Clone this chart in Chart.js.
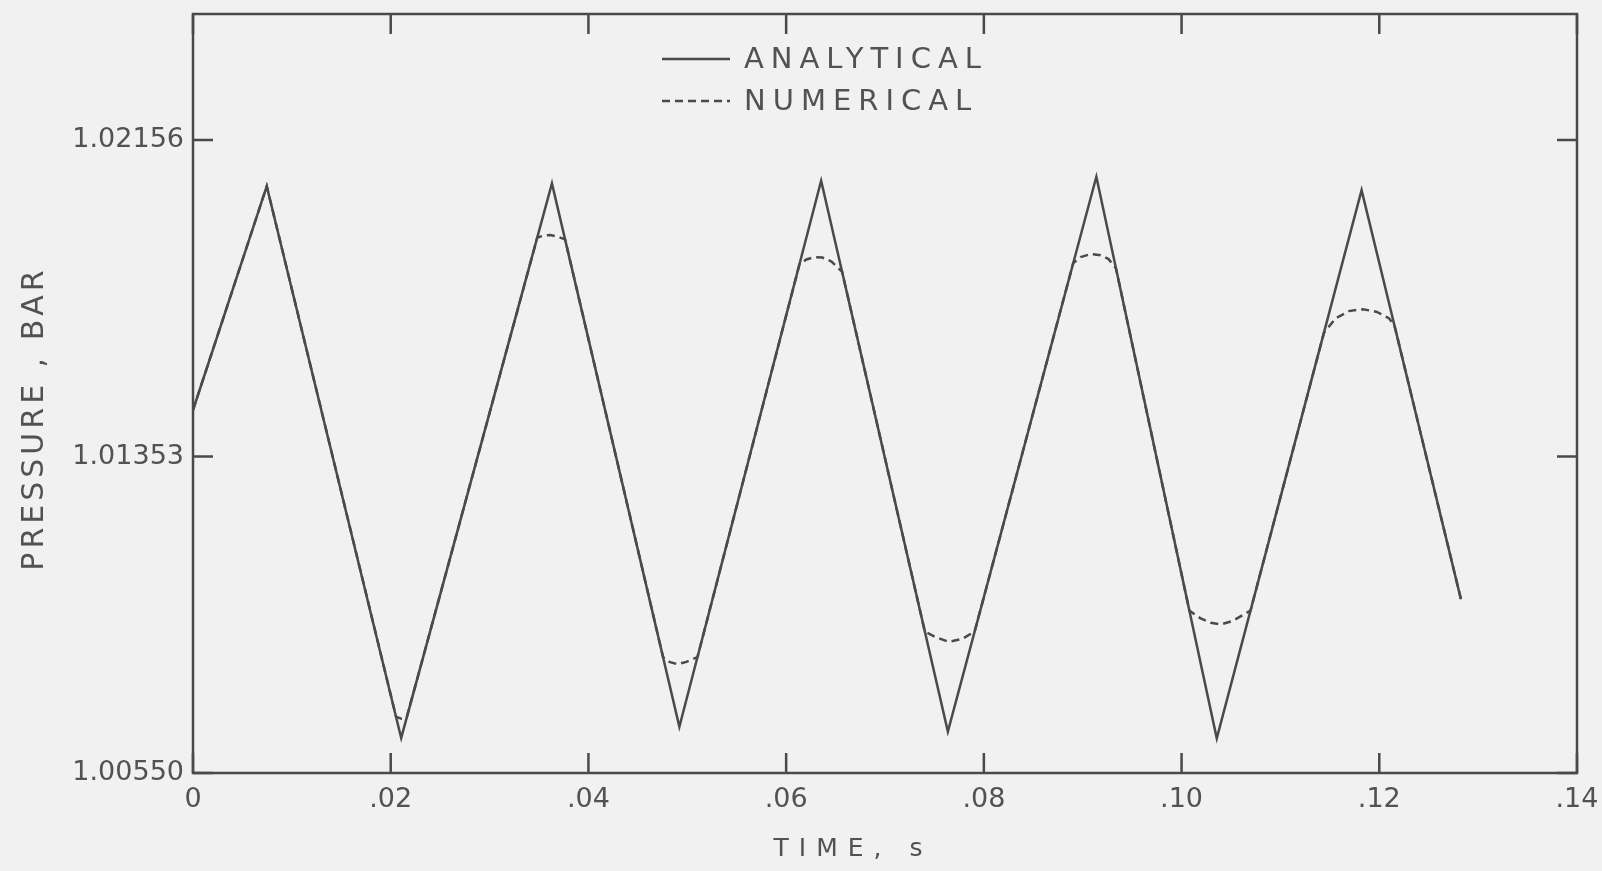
<!DOCTYPE html>
<html>
<head>
<meta charset="utf-8">
<script src="https://cdn.jsdelivr.net/npm/chart.js@4/dist/chart.umd.min.js"></script>
<style>
  html, body { margin: 0; padding: 0; background: #f1f1f1; overflow: hidden; }
  #wrap { width: 1602px; height: 871px; position: relative; }
</style>
</head>
<body>
<div id="wrap"><canvas id="chart"></canvas></div>
<script>
// analytical solution: corners of the sawtooth
const timeAnalytical = [0, 0.00746, 0.02106, 0.03631, 0.04920, 0.06354, 0.07636, 0.09138, 0.10356, 0.11821, 0.12826];
const pressureAnalytical = [1.01471, 1.02039, 1.00639, 1.02046, 1.00667, 1.02053, 1.00655, 1.02063, 1.00638, 1.02029, 1.00991];

// numerical solution: follows the analytical line but rounds off the peaks
const timeNumerical = [
  0, 0.00746,
  0.02055, 0.02110, 0.02163,
  0.03483, 0.03553, 0.03614, 0.03685, 0.03764,
  0.04755, 0.04819, 0.04900, 0.04991, 0.05103,
  0.06135, 0.06205, 0.06286, 0.06367, 0.06459, 0.06566,
  0.07403, 0.07511, 0.07642, 0.07780, 0.07907,
  0.08904, 0.08979, 0.09080, 0.09181, 0.09262, 0.09336,
  0.10079, 0.10194, 0.10295, 0.10396, 0.10518, 0.10697,
  0.11440, 0.11560, 0.11692, 0.11834, 0.11976, 0.12097, 0.12152,
  0.12826
];
const pressureNumerical = [
  1.01471, 1.02039,
  1.00692, 1.00688, 1.00692,
  1.01909, 1.01914, 1.01915, 1.01911, 1.01904,
  1.00844, 1.00832, 1.00826, 1.00832, 1.00844,
  1.01841, 1.01853, 1.01859, 1.01858, 1.01848, 1.01822,
  1.00909, 1.00895, 1.00883, 1.00890, 1.00909,
  1.01844, 1.01859, 1.01867, 1.01864, 1.01854, 1.01831,
  1.00962, 1.00942, 1.00931, 1.00927, 1.00936, 1.00962,
  1.01667, 1.01704, 1.01722, 1.01727, 1.01720, 1.01704, 1.01687,
  1.00991
];

const xTickValues = [0, 0.02, 0.04, 0.06, 0.08, 0.10, 0.12, 0.14];
const xTickLabels = ["0", ".02", ".04", ".06", ".08", ".10", ".12", ".14"];
const yTickValues = [1.00550, 1.01353, 1.02156];
const yTickLabels = ["1.00550", "1.01353", "1.02156"];

const ink = "#4a4a4a";
const textInk = "#525252";
const font = "'DejaVu Sans', sans-serif";

function points(xs, ys) {
  return xs.map((x, i) => ({ x: x, y: ys[i] }));
}

// hand lettering: wide letter spacing and titles a bit off centre
const titleStyle = {
  x: { spacing: "10px", dx: -32, dy: 0 },
  y: { spacing: "4px", dx: 0, dy: 25 }
};
const spacedTitles = {
  id: "spacedTitles",
  beforeDraw(chart) {
    for (const id of ["x", "y"]) {
      const scale = chart.scales[id];
      if (scale._spaced) continue;
      const orig = scale.drawTitle;
      const st = titleStyle[id];
      scale.drawTitle = function () {
        const ctx = this.ctx;
        ctx.save();
        ctx.letterSpacing = st.spacing;
        ctx.translate(st.dx, st.dy);
        orig.call(this);
        ctx.restore();
      };
      scale._spaced = true;
    }
  }
};

// closed frame with tick marks pointing inward on all four sides
const frameTicks = {
  id: "frameTicks",
  afterDraw(chart) {
    const { ctx, chartArea: a } = chart;
    const xs = chart.scales.x, ys = chart.scales.y;
    const len = 20;
    ctx.save();
    ctx.strokeStyle = ink;
    ctx.lineWidth = 2.5;
    ctx.strokeRect(a.left, a.top, a.right - a.left, a.bottom - a.top);
    ctx.beginPath();
    xTickValues.forEach(v => {
      const px = xs.getPixelForValue(v);
      ctx.moveTo(px, a.bottom); ctx.lineTo(px, a.bottom - len);
      ctx.moveTo(px, a.top); ctx.lineTo(px, a.top + len);
    });
    yTickValues.forEach(v => {
      const py = ys.getPixelForValue(v);
      ctx.moveTo(a.left, py); ctx.lineTo(a.left + len, py);
      ctx.moveTo(a.right, py); ctx.lineTo(a.right - len, py);
    });
    ctx.stroke();
    ctx.restore();
  }
};

// legend drawn inside the frame, near the top
const innerLegend = {
  id: "innerLegend",
  afterDraw(chart) {
    const ctx = chart.ctx;
    const x0 = 662, y0 = 59, rowGap = 42, sample = 68;
    ctx.save();
    chart.data.datasets.forEach((ds, i) => {
      const y = y0 + i * rowGap;
      ctx.strokeStyle = ds.borderColor;
      ctx.lineWidth = ds.borderWidth;
      ctx.setLineDash(ds.borderDash || []);
      ctx.beginPath();
      ctx.moveTo(x0, y);
      ctx.lineTo(x0 + sample, y);
      ctx.stroke();
      ctx.setLineDash([]);
      ctx.font = "29px " + font;
      ctx.letterSpacing = "7px";
      ctx.fillStyle = textInk;
      ctx.textBaseline = "middle";
      ctx.textAlign = "left";
      ctx.fillText(ds.label, x0 + 82, y + 1);
    });
    ctx.restore();
  }
};

new Chart(document.getElementById("chart"), {
  type: "line",
  data: {
    datasets: [
      {
        label: "ANALYTICAL",
        data: points(timeAnalytical, pressureAnalytical),
        borderColor: ink,
        borderWidth: 2.5,
        pointRadius: 0,
        tension: 0
      },
      {
        label: "NUMERICAL",
        data: points(timeNumerical, pressureNumerical),
        borderColor: ink,
        borderWidth: 2.5,
        borderDash: [8, 5],
        pointRadius: 0,
        tension: 0
      }
    ]
  },
  options: {
    responsive: true,
    maintainAspectRatio: false,
    animation: false,
    layout: { padding: { top: 14, right: 25, left: 0, bottom: 0 } },
    plugins: {
      legend: { display: false },
      tooltip: { enabled: false }
    },
    scales: {
      x: {
        type: "linear",
        min: 0,
        max: 0.14,
        grid: { display: false, drawTicks: false },
        border: { display: false },
        afterBuildTicks: s => { s.ticks = xTickValues.map(v => ({ value: v })); },
        afterFit: s => { s.height = 98; s.paddingLeft = 0; s.paddingRight = 0; },
        ticks: {
          autoSkip: false,
          maxRotation: 0,
          padding: 11,
          color: textInk,
          font: { family: font, size: 27 },
          callback: (v, i) => xTickLabels[i]
        },
        title: {
          display: true,
          text: "TIME, s",
          color: textInk,
          font: { family: font, size: 25 },
          padding: { top: 0, bottom: 7 }
        }
      },
      y: {
        type: "linear",
        min: 1.00550,
        max: 1.02476,
        grid: { display: false, drawTicks: false },
        border: { display: false },
        afterBuildTicks: s => { s.ticks = yTickValues.map(v => ({ value: v })); },
        afterFit: s => { s.width = 193; s.paddingTop = 0; s.paddingBottom = 0; },
        ticks: {
          autoSkip: false,
          padding: 9,
          color: textInk,
          font: { family: font, size: 27 },
          callback: (v, i) => yTickLabels[i]
        },
        title: {
          display: true,
          text: "PRESSURE , BAR",
          color: textInk,
          font: { family: font, size: 30 },
          padding: { top: 17, bottom: 0 }
        }
      }
    }
  },
  plugins: [spacedTitles, frameTicks, innerLegend]
});
</script>
</body>
</html>
